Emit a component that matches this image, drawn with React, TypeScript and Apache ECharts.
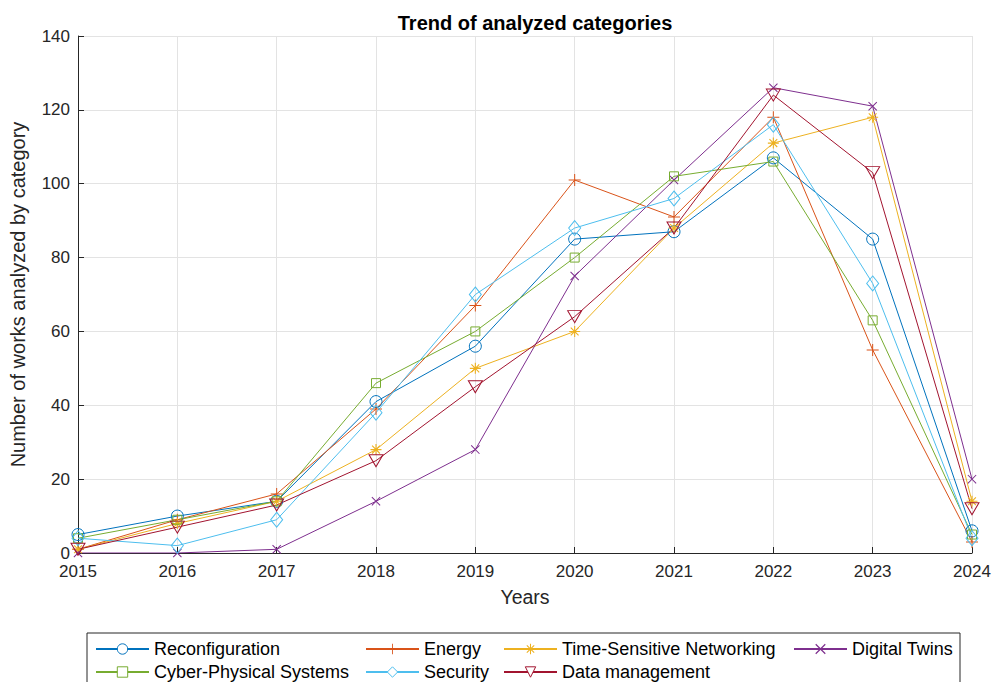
import React, { useEffect, useRef } from "react";
import * as echarts from "echarts";

const years = ["2015", "2016", "2017", "2018", "2019", "2020", "2021", "2022", "2023", "2024"];
const reconfiguration = [5, 10, 14, 41, 56, 85, 87, 107, 85, 6];
const energy = [1, 9, 16, 39, 67, 101, 91, 118, 55, 3];
const tsn = [1, 8, 14, 28, 50, 60, 88, 111, 118, 14];
const digitalTwins = [0, 0, 1, 14, 28, 75, 101, 126, 121, 20];
const cps = [4, 9, 14, 46, 60, 80, 102, 106, 63, 5];
const security = [4, 2, 9, 38, 70, 88, 96, 116, 73, 4];
const dataManagement = [1, 7, 13, 25, 45, 64, 88, 124, 103, 12];

const FONT = "'Liberation Sans', Arial, Helvetica, sans-serif";
const TXT = "#262626";

const PLUS = "path://M-0.5,-6H0.5V-0.5H6V0.5H0.5V6H-0.5V0.5H-6V-0.5H-0.5Z";
const XMARK = "path://M-4.35,-3.65L-3.65,-4.35L4.35,3.65L3.65,4.35Z M3.65,-4.35L4.35,-3.65L-3.65,4.35L-4.35,3.65Z";
const STAR = "path://M-0.5,-5H0.5V5H-0.5Z M-5,-0.5H5V0.5H-5Z M-3.9,-3.2L-3.2,-3.9L3.9,3.2L3.2,3.9Z M3.2,-3.9L3.9,-3.2L-3.2,3.9L-3.9,3.2Z";

type Def = {
  name: string;
  data: number[];
  color: string;
  symbol: string;
  size: number | number[];
  hollow: boolean;
  rotate?: number;
};

const defs: Def[] = [
  { name: "Reconfiguration", data: reconfiguration, color: "#0072BD", symbol: "circle", size: 12, hollow: true },
  { name: "Energy", data: energy, color: "#D95319", symbol: PLUS, size: 12, hollow: false },
  { name: "Time-Sensitive Networking", data: tsn, color: "#EDB120", symbol: STAR, size: 11, hollow: false },
  { name: "Digital Twins", data: digitalTwins, color: "#7E2F8E", symbol: XMARK, size: 9, hollow: false },
  { name: "Cyber-Physical Systems", data: cps, color: "#77AC30", symbol: "rect", size: 9, hollow: true },
  { name: "Security", data: security, color: "#4DBEEE", symbol: "diamond", size: [12, 15], hollow: true },
  { name: "Data management", data: dataManagement, color: "#A2142F", symbol: "triangle", size: [14, 12], hollow: true, rotate: 180 },
];

export default function App() {
  const ref = useRef<HTMLDivElement>(null);
  useEffect(() => {
    if (!ref.current) return;
    const chart = echarts.init(ref.current, undefined, { renderer: "svg" });
    const series = defs.map((d) => ({
      name: d.name,
      type: "line",
      data: d.data,
      symbol: d.symbol,
      symbolSize: d.size,
      symbolRotate: d.rotate || 0,
      symbolKeepAspect: true,
      showAllSymbol: true,
      lineStyle: { color: d.color, width: 1 },
      itemStyle: d.hollow
        ? { color: "transparent", borderColor: d.color, borderWidth: 1 }
        : { color: d.color, borderWidth: 0 },
      emphasis: { disabled: true },
      z: 3,
    }));
    const legendCols = [
      { left: 95, names: ["Reconfiguration", "Cyber-Physical Systems"] },
      { left: 365, names: ["Energy", "Security"] },
      { left: 503, names: ["Time-Sensitive Networking", "Data management"] },
      { left: 793, names: ["Digital Twins"] },
    ];
    const legends = legendCols.map((c) => ({
      orient: "vertical",
      left: c.left,
      top: 639,
      padding: 0,
      itemWidth: 53,
      itemHeight: 13,
      itemGap: 3,
      selectedMode: false,
      data: c.names.map((n) => {
        const d = defs.find((x) => x.name === n)!;
        return d.hollow
          ? { name: n, itemStyle: { color: "#fff", borderColor: d.color, borderWidth: 1 } }
          : { name: n };
      }),
      textStyle: { fontFamily: FONT, fontSize: 18, color: "#000", lineHeight: 20 },
    }));
    chart.setOption({
      animation: false,
      backgroundColor: "#fff",
      title: {
        text: "Trend of analyzed categories",
        left: 530,
        top: 8,
        textAlign: "center",
        textStyle: { fontFamily: FONT, fontSize: 20, fontWeight: "bold", color: "#000" },
      },
      grid: { left: 78, right: 26, top: 36, bottom: 129, containLabel: false },
      graphic: [
        {
          type: "rect",
          z: 0,
          shape: { x: 87, y: 633, width: 873, height: 60 },
          style: { fill: "#fff", stroke: TXT, lineWidth: 1 },
        },
      ],
      legend: legends,
      xAxis: {
        type: "category",
        data: years,
        boundaryGap: false,
        name: "Years",
        nameLocation: "middle",
        nameGap: 34,
        nameTextStyle: { fontFamily: FONT, fontSize: 19.5, color: TXT },
        axisLine: { lineStyle: { color: TXT, width: 1 } },
        axisTick: { inside: true, length: 6, lineStyle: { color: TXT } },
        axisLabel: { fontFamily: FONT, fontSize: 17, color: TXT, margin: 10 },
        splitLine: { show: true, lineStyle: { color: "#e3e3e3", width: 1 } },
      },
      yAxis: {
        type: "value",
        min: 0,
        max: 140,
        interval: 20,
        name: "Number of works analyzed by category",
        nameLocation: "middle",
        nameGap: 50,
        nameTextStyle: { fontFamily: FONT, fontSize: 20, color: TXT },
        axisLine: { show: true, lineStyle: { color: TXT, width: 1 } },
        axisTick: { show: true, inside: true, length: 6, lineStyle: { color: TXT } },
        axisLabel: { fontFamily: FONT, fontSize: 17, color: TXT, margin: 8 },
        splitLine: { show: true, lineStyle: { color: "#e3e3e3", width: 1 } },
      },
      series,
    });
    return () => chart.dispose();
  }, []);
  return (
    <div
      ref={ref}
      style={{ position: "fixed", left: 0, top: 0, width: 998, height: 682 }}
    />
  );
}
